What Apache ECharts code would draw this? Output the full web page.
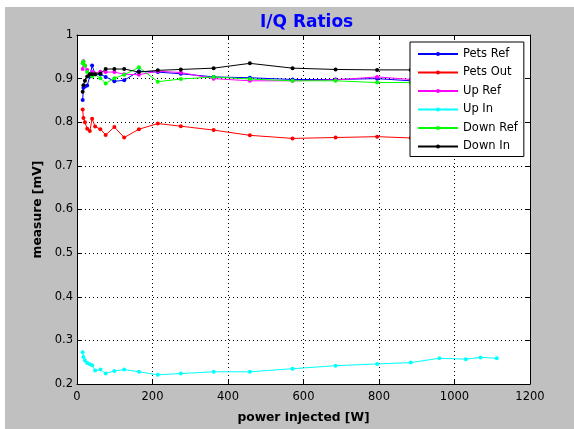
<!DOCTYPE html>
<html>
<head>
<meta charset="utf-8">
<script src="https://cdn.jsdelivr.net/npm/echarts@6/dist/echarts.min.js"></script>
<style>
  html, body { margin: 0; padding: 0; background: #ffffff; width: 574px; height: 429px; overflow: hidden; }
  #chart { position: absolute; left: 5px; top: 7px; width: 569px; height: 422px; background: #c0c0c0; }
</style>
</head>
<body>
<div id="chart"></div>
<script>
// Injected power [W] for each measurement
const power = [15, 17, 21, 27, 34, 40, 48, 62, 76, 99, 125, 164, 214, 275, 362, 458, 571, 685, 795, 884, 960, 1030, 1069, 1112];

// I/Q ratio per channel [mV]
const petsRef = [0.851, 0.879, 0.882, 0.884, 0.905, 0.930, 0.910, 0.910, 0.904, 0.894, 0.896, 0.917, 0.915, 0.911, 0.904, 0.902, 0.898, 0.898, 0.900, 0.895, 0.895, 0.895, 0.895, 0.895];
const petsOut = [0.829, 0.810, 0.800, 0.785, 0.780, 0.808, 0.790, 0.784, 0.771, 0.789, 0.765, 0.784, 0.797, 0.791, 0.782, 0.770, 0.763, 0.765, 0.767, 0.764, 0.765, 0.765, 0.765, 0.765];
const upRef   = [0.922, 0.940, 0.930, 0.920, 0.910, 0.915, 0.912, 0.916, 0.915, 0.915, 0.910, 0.909, 0.917, 0.914, 0.900, 0.895, 0.895, 0.897, 0.904, 0.898, 0.898, 0.898, 0.898, 0.898];
const upIn    = [0.273, 0.262, 0.254, 0.248, 0.245, 0.243, 0.231, 0.233, 0.224, 0.230, 0.233, 0.228, 0.221, 0.224, 0.228, 0.228, 0.235, 0.242, 0.246, 0.249, 0.259, 0.257, 0.261, 0.259];
const downRef = [0.935, 0.939, 0.930, 0.915, 0.910, 0.905, 0.910, 0.901, 0.889, 0.901, 0.909, 0.926, 0.893, 0.899, 0.904, 0.899, 0.895, 0.895, 0.891, 0.891, 0.890, 0.890, 0.890, 0.890];
const downIn  = [0.870, 0.885, 0.895, 0.905, 0.910, 0.910, 0.910, 0.912, 0.922, 0.922, 0.922, 0.915, 0.919, 0.921, 0.924, 0.935, 0.924, 0.921, 0.920, 0.920, 0.920, 0.920, 0.920, 0.920];

const seriesNames = ['Pets Ref', 'Pets Out', 'Up Ref', 'Up In', 'Down Ref', 'Down In'];
const seriesValues = [petsRef, petsOut, upRef, upIn, downRef, downIn];
const seriesColors = ['#0000ff', '#ff0000', '#ff00ff', '#00ffff', '#00ff00', '#000000'];

const xTicks = { min: 0, max: 1200, interval: 200 };
const yTicks = { min: 0.2, max: 1, interval: 0.1 };

const tickFont = { fontFamily: 'DejaVu Sans', fontSize: 11.5, color: '#000' };
const labelFont = { fontFamily: 'DejaVu Sans', fontWeight: 'bold', fontSize: 12.3, color: '#000' };

function axisBase(t, pos, showLabels, fmt, margin) {
  return {
    type: 'value', position: pos,
    min: t.min, max: t.max, interval: t.interval,
    axisLine: { show: true, onZero: false, lineStyle: { color: '#000', width: 1 } },
    axisTick: { show: true, inside: true, length: 5, lineStyle: { color: '#000' } },
    axisLabel: Object.assign({ show: showLabels, margin: margin || 6, formatter: fmt }, tickFont),
    splitLine: { show: false }
  };
}

const gridLine = { show: true, lineStyle: { color: '#000', type: [1, 3], width: 1 } };

const xBottom = axisBase(xTicks, 'bottom', true, v => String(v), 7);
xBottom.splitLine = gridLine;
xBottom.name = 'power injected [W]';
xBottom.nameLocation = 'middle';
xBottom.nameGap = 28;
xBottom.nameTextStyle = labelFont;
const xTop = axisBase(xTicks, 'top', false);

const yLeft = axisBase(yTicks, 'left', true, v => {
  const r = Math.round(v * 10) / 10;
  return r === 1 ? '1' : r.toFixed(1);
}, 4);
yLeft.splitLine = gridLine;
yLeft.name = 'measure [mV]';
yLeft.nameLocation = 'middle';
yLeft.nameGap = 30;
yLeft.nameTextStyle = labelFont;
const yRight = axisBase(yTicks, 'right', false);

const chart = echarts.init(document.getElementById('chart'), null, { renderer: 'canvas' });
chart.setOption({
  animation: false,
  backgroundColor: '#c0c0c0',
  title: {
    text: 'I/Q Ratios', left: 250, top: 2,
    textStyle: { fontFamily: 'DejaVu Sans', fontWeight: 'bold', fontSize: 17, color: '#0000ff' }
  },
  grid: { left: 72, top: 28, right: 44, bottom: 37, show: true, backgroundColor: '#ffffff', borderWidth: 0 },
  xAxis: [xBottom, xTop],
  yAxis: [yLeft, yRight],
  legend: {
    orient: 'vertical', left: 405, top: 35, z: 20,
    padding: [5, 6, 3, 7],
    backgroundColor: '#ffffff', borderColor: '#000', borderWidth: 1,
    itemWidth: 40, itemHeight: 5, itemGap: 4.5,
    textStyle: { fontFamily: 'DejaVu Sans', fontSize: 11.5, color: '#000', lineHeight: 14 },
    data: seriesNames
  },
  series: seriesNames.map((name, i) => ({
    name: name, type: 'line',
    xAxisIndex: 0, yAxisIndex: 0,
    data: power.map((p, k) => [p, seriesValues[i][k]]),
    symbol: 'circle', symbolSize: 4, showAllSymbol: true,
    color: seriesColors[i],
    lineStyle: { width: 1, color: seriesColors[i] },
    itemStyle: { color: seriesColors[i] },
    z: 2
  }))
});
</script>
</body>
</html>
